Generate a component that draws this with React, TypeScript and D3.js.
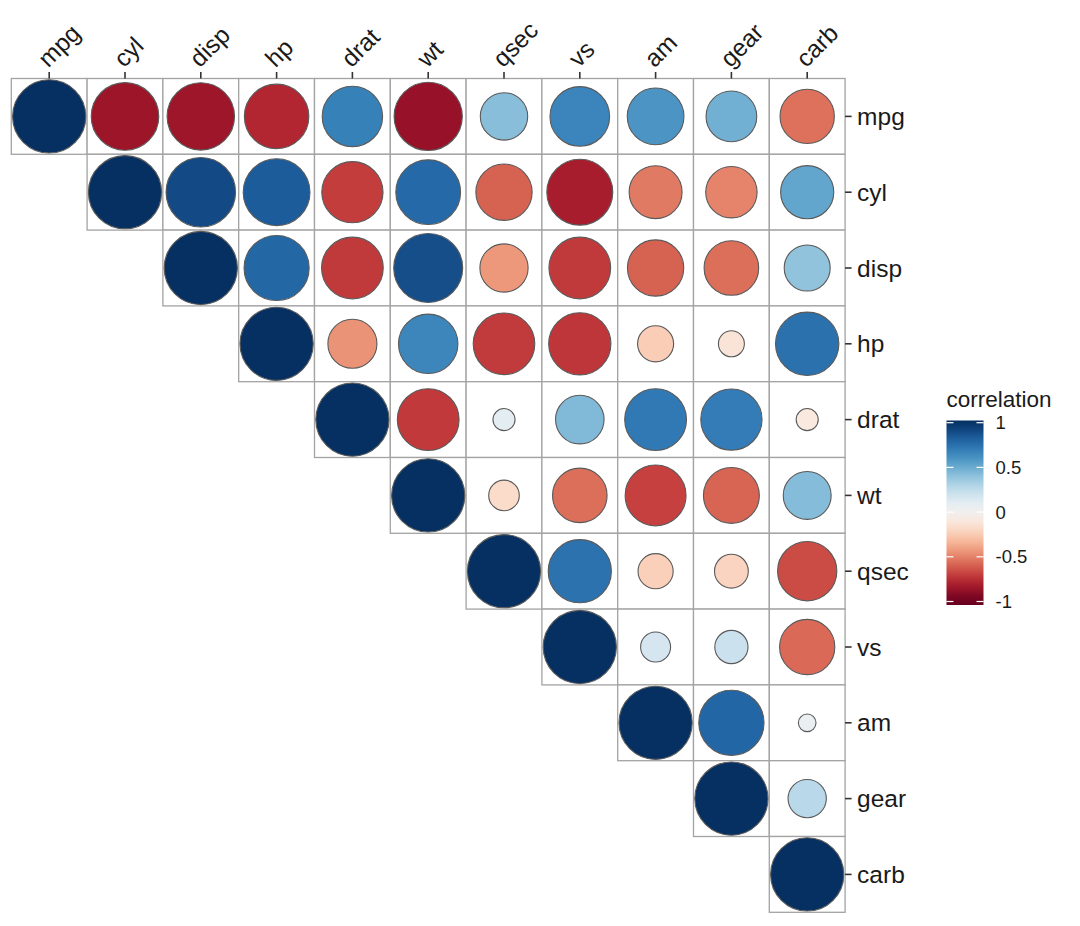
import React from "react";
import * as d3 from "d3";

const variables = ["mpg", "cyl", "disp", "hp", "drat", "wt", "qsec", "vs", "am", "gear", "carb"];

// upper-triangle correlations, row by row (starting from the diagonal)
const rowMpg = [1, -0.852, -0.848, -0.776, 0.681, -0.868, 0.419, 0.664, 0.6, 0.48, -0.551];
const rowCyl = [1, 0.902, 0.832, -0.7, 0.782, -0.591, -0.811, -0.523, -0.493, 0.527];
const rowDisp = [1, 0.791, -0.71, 0.888, -0.434, -0.71, -0.591, -0.556, 0.395];
const rowHp = [1, -0.449, 0.659, -0.708, -0.723, -0.243, -0.126, 0.75];
const rowDrat = [1, -0.712, 0.091, 0.44, 0.713, 0.7, -0.091];
const rowWt = [1, -0.175, -0.555, -0.692, -0.583, 0.428];
const rowQsec = [1, 0.745, -0.23, -0.213, -0.656];
const rowVs = [1, 0.168, 0.206, -0.57];
const rowAm = [1, 0.794, 0.058];
const rowGear = [1, 0.274];
const rowCarb = [1];

const rows = [rowMpg, rowCyl, rowDisp, rowHp, rowDrat, rowWt, rowQsec, rowVs, rowAm, rowGear, rowCarb];

const legendTicks = [1, 0.5, 0, -0.5, -1];

const FONT = "'Liberation Sans', Arial, Helvetica, sans-serif";

export default function App() {
  const x0 = 11.3;
  const y0 = 78.5;
  const cell = 75.8;
  const n = variables.length;

  const x = d3.scaleBand<string>().domain(variables).range([x0, x0 + n * cell]).padding(0);
  const y = d3.scaleBand<string>().domain(variables).range([y0, y0 + n * cell]).padding(0);
  const r = d3.scaleSqrt().domain([0, 1]).range([0, 36.6]);
  const color = (v: number) => d3.interpolateRdBu((v + 1) / 2);

  const cells: { row: string; col: string; v: number }[] = [];
  rows.forEach((vals, i) => {
    vals.forEach((v, k) => {
      cells.push({ row: variables[i], col: variables[i + k], v });
    });
  });

  const right = x0 + n * cell;

  // legend
  const lx = 946.5;
  const lw = 37;
  const lTop = 420.5;
  const lBot = 605;
  const ly = d3.scaleLinear().domain([1, -1]).range([422.7, 601.5]);
  const gradStops = d3.range(0, 1.0001, 0.05);

  return (
    <svg width={1080} height={926} style={{ display: "block", position: "absolute", left: 0, top: 0 }}>
      <rect x={0} y={0} width={1080} height={926} fill="#ffffff" />
      <defs>
        <linearGradient id="lg" x1="0" y1="0" x2="0" y2="1">
          {gradStops.map((t) => {
            const yy = lTop + t * (lBot - lTop);
            const v = ly.invert(yy);
            const vc = Math.max(-1, Math.min(1, v));
            return <stop key={t} offset={`${t * 100}%`} stopColor={color(vc)} />;
          })}
        </linearGradient>
      </defs>

      {cells.map((c) => (
        <rect
          key={`t-${c.row}-${c.col}`}
          x={x(c.col)!}
          y={y(c.row)!}
          width={x.bandwidth()}
          height={y.bandwidth()}
          fill="#ffffff"
          stroke="#a3a3a3"
          strokeWidth={1.3}
        />
      ))}
      {cells.map((c) => (
        <circle
          key={`c-${c.row}-${c.col}`}
          cx={x(c.col)! + x.bandwidth() / 2}
          cy={y(c.row)! + y.bandwidth() / 2}
          r={r(Math.abs(c.v))}
          fill={color(c.v)}
          stroke="#5a5a5a"
          strokeWidth={1.1}
        />
      ))}

      {/* top axis */}
      {variables.map((v) => {
        const cx = x(v)! + x.bandwidth() / 2;
        return (
          <g key={`top-${v}`}>
            <line x1={cx} x2={cx} y1={y0 - 6.5} y2={y0} stroke="#333" strokeWidth={1.6} />
            <text
              transform={`translate(${cx - 1},${y0 - 10}) rotate(-45)`}
              fontFamily={FONT}
              fontSize={24.5}
              fill="#1a1a1a"
            >
              {v}
            </text>
          </g>
        );
      })}

      {/* right axis */}
      {variables.map((v) => {
        const cy = y(v)! + y.bandwidth() / 2;
        return (
          <g key={`right-${v}`}>
            <line x1={right} x2={right + 6.5} y1={cy} y2={cy} stroke="#333" strokeWidth={1.6} />
            <text x={right + 12} y={cy} dy="0.35em" fontFamily={FONT} fontSize={24.5} fill="#1a1a1a">
              {v}
            </text>
          </g>
        );
      })}

      {/* legend */}
      <text x={lx} y={406.5} fontFamily={FONT} fontSize={22.5} fill="#1a1a1a">
        correlation
      </text>
      <rect x={lx} y={lTop} width={lw} height={lBot - lTop} fill="url(#lg)" />
      {legendTicks.map((t) => (
        <g key={`lt-${t}`}>
          <line x1={lx} x2={lx + 7} y1={ly(t)} y2={ly(t)} stroke="#ffffff" strokeWidth={1.2} />
          <line x1={lx + lw - 7} x2={lx + lw} y1={ly(t)} y2={ly(t)} stroke="#ffffff" strokeWidth={1.2} />
          <text x={lx + lw + 12} y={ly(t)} dy="0.36em" fontFamily={FONT} fontSize={18.5} fill="#1a1a1a">
            {t}
          </text>
        </g>
      ))}
    </svg>
  );
}
